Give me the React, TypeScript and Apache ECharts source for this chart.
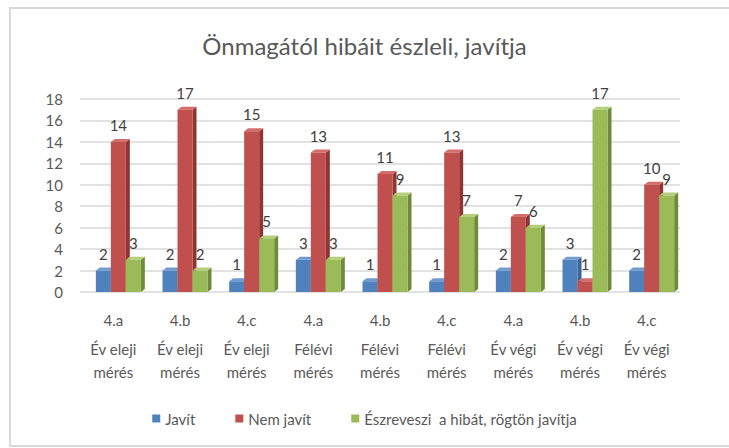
import React, { useEffect, useRef } from "react";
import * as echarts from "echarts";

const groups = ["4.a", "4.b", "4.c", "4.a", "4.b", "4.c", "4.a", "4.b", "4.c"];
const periods = ["Év eleji", "Év eleji", "Év eleji", "Félévi", "Félévi", "Félévi", "Év végi", "Év végi", "Év végi"];
const periodSuffix = "mérés";
const javit = [2, 2, 1, 3, 1, 1, 2, 3, 2];
const nemJavit = [14, 17, 15, 13, 11, 13, 7, 1, 10];
const eszreveszi = [3, 2, 5, 3, 9, 7, 6, 17, 9];
const seriesNames = ["Javít", "Nem javít", "Észreveszi  a hibát, rögtön javítja"];
const yTicks = [0, 2, 4, 6, 8, 10, 12, 14, 16, 18];

const FONT = "Lato, 'Open Sans', sans-serif";

function makeRender(offset: number, front: string, side: string, top: string) {
  return (params: any, api: any) => {
    const idx = api.value(0);
    const val = api.value(1);
    const base = api.coord([idx, 0]);
    const tp = api.coord([idx, val]);
    const bw = 15;
    const dx = 4;
    const dy = 3;
    const x = base[0] + offset - bw / 2 + 5;
    const y0 = base[1];
    const y1 = tp[1];
    return {
      type: "group",
      children: [
        {
          type: "polygon",
          shape: { points: [[x + bw, y1], [x + bw + dx, y1 - dy], [x + bw + dx, y0 - dy], [x + bw, y0]] },
          style: { fill: side },
        },
        {
          type: "polygon",
          shape: { points: [[x, y1], [x + dx, y1 - dy], [x + bw + dx, y1 - dy], [x + bw, y1]] },
          style: { fill: top },
        },
        {
          type: "rect",
          shape: { x, y: y1, width: bw, height: y0 - y1 },
          style: { fill: front },
        },
        {
          type: "text",
          style: {
            x: x + bw / 2,
            y: y1 - 17,
            text: String(val),
            align: "center",
            verticalAlign: "middle",
            fill: "#404040",
            font: `15px ${FONT}`,
          },
        },
      ],
    };
  };
}

export default function App() {
  const ref = useRef<HTMLDivElement>(null);
  useEffect(() => {
    if (!ref.current) return;
    const chart = echarts.init(ref.current, null, { renderer: "svg" });
    const mk = (arr: number[]) => arr.map((v, i) => [i, v]);
    chart.setOption({
      animation: false,
      backgroundColor: "#ffffff",
      title: {
        text: "Önmagától hibáit észleli, javítja",
        left: "center",
        top: 28,
        textStyle: { fontFamily: FONT, fontSize: 24, fontWeight: "normal", color: "#595959" },
      },
      graphic: [
        {
          type: "rect",
          shape: { x: 10, y: 8, width: 730, height: 438 },
          style: { fill: "none", stroke: "#d9d9d9", lineWidth: 2 },
          z: -1,
        },
      ],
      legend: {
        top: 406,
        left: "center",
        icon: "rect",
        itemWidth: 8,
        itemHeight: 8,
        itemGap: 40,
        textStyle: { fontFamily: FONT, fontSize: 15, color: "#595959" },
        data: seriesNames,
      },
      grid: { left: 80, right: 49, top: 99, bottom: 156 },
      xAxis: {
        type: "category",
        data: groups.map((g, i) => i),
        axisLine: { show: false },
        axisTick: { show: false },
        axisLabel: {
          interval: 0,
          margin: 10,
          formatter: (_v: any, i: number) => `{a|${groups[i]}}\n{b|${periods[i]}}\n{b|${periodSuffix}}`,
          rich: {
            a: { fontFamily: FONT, fontSize: 15, color: "#595959", lineHeight: 35 },
            b: { fontFamily: FONT, fontSize: 15, color: "#595959", lineHeight: 23 },
          },
        },
      },
      yAxis: {
        type: "value",
        min: yTicks[0],
        max: yTicks[yTicks.length - 1],
        interval: 2,
        axisLine: { show: false },
        axisTick: { show: false },
        axisLabel: { margin: 17, fontFamily: FONT, fontSize: 15, color: "#595959" },
        splitLine: { lineStyle: { color: "#d9d9d9", width: 1.5 } },
      },
      series: [
        {
          name: seriesNames[0],
          type: "custom",
          itemStyle: { color: "#4F81BD" },
          renderItem: makeRender(-15, "#4F81BD", "#3A6596", "#6F9BD1"),
          encode: { x: 0, y: 1 },
          data: mk(javit),
        },
        {
          name: seriesNames[1],
          type: "custom",
          itemStyle: { color: "#C0504D" },
          renderItem: makeRender(0, "#C0504D", "#8E3532", "#D46E6B"),
          encode: { x: 0, y: 1 },
          data: mk(nemJavit),
        },
        {
          name: seriesNames[2],
          type: "custom",
          itemStyle: { color: "#9BBB59" },
          renderItem: makeRender(15, "#9BBB59", "#6E8A3A", "#B4CF7A"),
          encode: { x: 0, y: 1 },
          data: mk(eszreveszi),
        },
      ],
    });
    return () => chart.dispose();
  }, []);
  return (
    <div
      ref={ref}
      style={{ position: "fixed", left: 0, top: 0, width: 729, height: 448 }}
    />
  );
}
